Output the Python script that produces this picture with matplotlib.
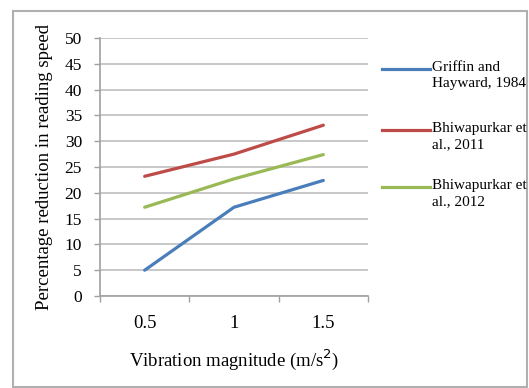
import matplotlib
matplotlib.use("Agg")
import matplotlib.pyplot as plt
from matplotlib.lines import Line2D
from matplotlib.patches import Rectangle

plt.rcParams['font.family'] = ['Liberation Serif', 'DejaVu Serif']

categories = ["0.5", "1", "1.5"]
griffin = [5.0, 17.2, 22.4]
bhiw2011 = [23.2, 27.5, 33.1]
bhiw2012 = [17.2, 22.7, 27.4]
series_labels = ["Griffin and\nHayward, 1984", "Bhiwapurkar et\nal., 2011", "Bhiwapurkar et\nal., 2012"]
yticks = [0, 5, 10, 15, 20, 25, 30, 35, 40, 45, 50]

colors = ["#4a7ebb", "#be4b48", "#98b954"]

W, H = 529, 388
fig = plt.figure(figsize=(W / 100, H / 100), dpi=100)
ax = fig.add_axes([100 / W, 1 - 296 / H, 268 / W, 258 / H])

x = list(range(len(categories)))
lines = []
for vals, c in zip([griffin, bhiw2011, bhiw2012], colors):
    ln, = ax.plot(x, vals, color=c, lw=2.3, solid_capstyle='round', zorder=3)
    lines.append(ln)

ax.set_xlim(-0.5, len(categories) - 0.5)
ax.set_ylim(0, 50)
ax.set_yticks(yticks)
ax.set_yticklabels([str(v) for v in yticks], fontsize=12.5)
ax.yaxis.grid(True, color="#c4c4c4", lw=1.3)
ax.set_axisbelow(True)
ax.set_xticks(x)
ax.set_xticklabels(categories, fontsize=13.5)
ax.tick_params(axis='x', which='major', length=0, pad=14)
ax.set_xticks([i - 0.5 for i in range(len(categories) + 1)], minor=True)
ax.tick_params(axis='x', which='minor', length=4, color="#a0a0a0", width=1)
ax.tick_params(axis='y', length=4, color="#a0a0a0", width=1, pad=9)
for s in ['top', 'right']:
    ax.spines[s].set_visible(False)
ax.spines['left'].set_color("#a0a0a0")
ax.spines['bottom'].set_color("#a0a0a0")
ax.spines['left'].set_linewidth(1.2)
ax.spines['bottom'].set_linewidth(1.2)

ax.set_ylabel("Percentage reduction in reading speed", fontsize=13.5, labelpad=8)
ax.set_xlabel("Vibration magnitude (m/s$^2$)", fontsize=13.5, labelpad=11)

# manual legend
leg_y = [69, 130, 187]
for ln, lab, yy in zip(lines, series_labels, leg_y):
    fy = 1 - yy / H
    fig.add_artist(Line2D([382 / W, 430 / W], [fy, fy], color=ln.get_color(),
                          lw=2.3, transform=fig.transFigure))
    fig.text(432 / W, fy + 8 / H, lab, fontsize=11, va='top', ha='left',
             linespacing=1.3)

# outer border
fig.add_artist(Rectangle((13 / W, 1 - 387 / H), (527 - 13) / W, (387 - 11) / H,
                         transform=fig.transFigure, fill=False,
                         edgecolor="#b0b0b0", lw=1.5))

fig.savefig("out.png", dpi=100)
